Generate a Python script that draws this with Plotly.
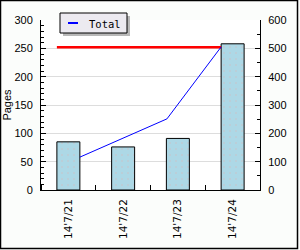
import plotly.graph_objects as go

categories = ["14'7/21", "14'7/22", "14'7/23", "14'7/24"]
pages = [85, 76, 91, 258]
total_x = [0.21, 1.8, 2.79]
total = [116, 251, 505]
target_x = [-0.21, 2.79]
target = [252, 252]

L, R, T, B = 41, 40, 20, 60
W, H = 300 - L - R, 250 - T - B

def px(x):
    return (x - L) / W

def py(y):
    return 1 - (y - T) / H

font = dict(family="Liberation Sans, Arial", size=11, color="black")

fig = go.Figure()
fig.add_trace(go.Bar(
    x=list(range(len(categories))), y=pages, width=0.42,
    marker=dict(color="#add8e6", line=dict(color="black", width=1),
                pattern=dict(shape=".", fgcolor="#e8a8a8", bgcolor="#add8e6", size=6, solidity=0.06)),
    showlegend=False, yaxis="y"))
fig.add_trace(go.Scatter(
    x=target_x, y=target, mode="lines", line=dict(color="red", width=2.5),
    showlegend=False, yaxis="y"))
fig.add_trace(go.Scatter(
    x=total_x, y=total, mode="lines", line=dict(color="blue", width=1),
    name="Total", showlegend=False, yaxis="y2"))

fig.update_layout(
    width=300, height=250,
    margin=dict(l=L, r=R, t=T, b=B, pad=0, autoexpand=False),
    paper_bgcolor="#fbfdfb", plot_bgcolor="white",
    font=font,
    showlegend=False,
    xaxis=dict(range=[-0.5, 3.5], tickvals=list(range(len(categories))), ticktext=categories,
               tickangle=-90, ticks="", showgrid=False, zeroline=False, automargin=False,
               showline=True, linecolor="black", linewidth=1,
               minor=dict(tick0=0.5, dtick=1, ticks="inside", ticklen=5, tickcolor="black"),
               tickfont=dict(family="DejaVu Sans", size=10.5), ticklabelstandoff=4),
    yaxis=dict(range=[0, 300], dtick=50, ticks="inside", ticklen=5, tickcolor="black",
               showline=True, linecolor="black", linewidth=1, automargin=False,
               showgrid=True, gridcolor="#dddddd", gridwidth=1, zeroline=False,
               minor=dict(dtick=10, ticks="inside", ticklen=3, tickcolor="black", showgrid=False),
               title=dict(text="Pages", standoff=0, font=dict(size=11)),
               ticklabelstandoff=5),
    yaxis2=dict(range=[0, 600], dtick=100, overlaying="y", side="right",
                ticks="inside", ticklen=5, tickcolor="black", automargin=False,
                showline=True, linecolor="black", linewidth=1,
                showgrid=False, zeroline=False,
                minor=dict(dtick=50, ticks="inside", ticklen=3, tickcolor="black", showgrid=False),
                ticklabelstandoff=5),
    shapes=[
        # legend shadow and box
        dict(type="rect", xref="paper", yref="paper", x0=px(63), x1=px(130), y0=py(16), y1=py(36),
             fillcolor="#b8b8b8", line=dict(width=0), layer="above"),
        dict(type="rect", xref="paper", yref="paper", x0=px(60), x1=px(127), y0=py(13), y1=py(33),
             fillcolor="#eceaf0", line=dict(color="black", width=1), layer="above"),
        dict(type="line", xref="paper", yref="paper", x0=px(68), x1=px(78), y0=py(23), y1=py(23),
             line=dict(color="blue", width=2), layer="above"),
        # outer frame
        dict(type="rect", xref="paper", yref="paper", x0=px(0.5), x1=px(297.5), y0=py(0.5), y1=py(248.5),
             line=dict(color="black", width=1.5), fillcolor="rgba(0,0,0,0)", layer="above"),
    ],
    annotations=[
        dict(text="Total", xref="paper", yref="paper", x=px(87), y=py(23.5),
             xanchor="left", yanchor="middle", showarrow=False,
             font=dict(family="DejaVu Sans Mono", size=10.5, color="black")),
    ],
)

fig.write_html("out.html")
